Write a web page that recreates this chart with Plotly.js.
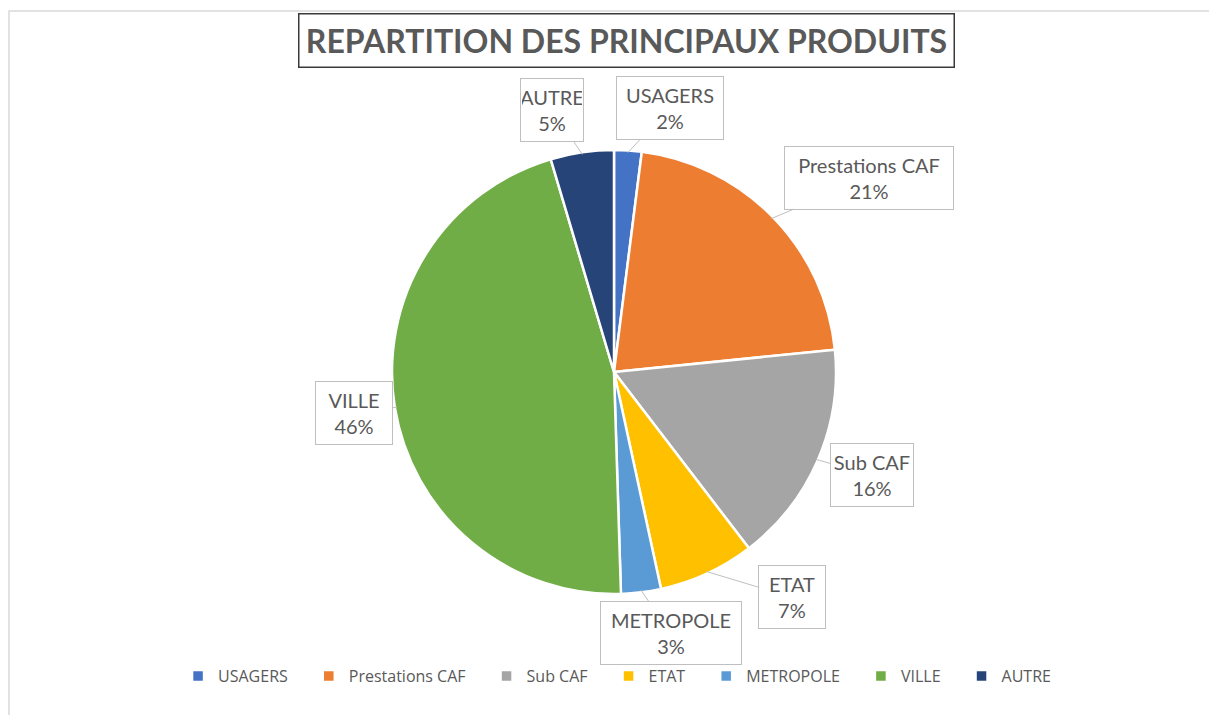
<!DOCTYPE html>
<html>
<head>
<meta charset="utf-8">
<script src="https://cdn.plot.ly/plotly-3.0.1.min.js"></script>
<style>
  body { margin: 0; background: #fff; }
  #chart { width: 1209px; height: 715px; }
</style>
</head>
<body>
<div id="chart"></div>
<script>
// Répartition des principaux produits

const categories = ['USAGERS', 'Prestations CAF', 'Sub CAF', 'ETAT', 'METROPOLE', 'VILLE', 'AUTRE'];
const shares = [2.0, 21.4, 16.2, 7.0, 2.9, 45.9, 4.6];
const colors = ['#4472C4', '#ED7D31', '#A5A5A5', '#FFC000', '#5B9BD5', '#70AD47', '#264478'];

// pixel geometry of the pie
const W = 1209, H = 715;
const cx = 614, cy = 372, R = 222;

// offsets (px) of each callout box from the slice edge, and box widths
const calloutOffset = [[42, -45], [98, -41], [56, 16], [86, 26], [30, 43], [-43, 6], [-30, -45]];
const calloutWidth = [104, 166, 80, 64, 138, 74, 60];

const total = shares.reduce((a, b) => a + b, 0);
let cum = 0;
const callouts = categories.map((name, i) => {
    const mid = (cum + shares[i] / 2) / total * 2 * Math.PI;
    cum += shares[i];
    const px = cx + 0.99 * R * Math.sin(mid);
    const py = cy - 0.99 * R * Math.cos(mid);
    return {
        x: px / W, y: 1 - py / H, xref: 'paper', yref: 'paper',
        text: name + '<br>' + Math.round(shares[i] / total * 100) + '%',
        showarrow: true, arrowhead: 0, arrowwidth: 1, arrowcolor: '#bfbfbf',
        ax: calloutOffset[i][0], ay: calloutOffset[i][1],
        width: calloutWidth[i], height: 60,
        bgcolor: '#ffffff', bordercolor: '#bfbfbf', borderwidth: 1, borderpad: 1,
        font: {family: 'Lato, sans-serif', size: 20, color: '#595959'}
    };
});

// a little extra room after each legend entry
const legendLabels = categories.map(c => c + '\u2003');

const data = [{
    type: 'pie',
    labels: legendLabels,
    values: shares,
    sort: false,
    direction: 'clockwise',
    rotation: 0,
    textinfo: 'none',
    hoverinfo: 'label+percent',
    marker: {colors: colors, line: {color: '#ffffff', width: 2.5}},
    domain: {x: [(cx - R) / W, (cx + R) / W], y: [1 - (cy + R) / H, 1 - (cy - R) / H]}
}];

const layout = {
    width: W,
    height: H,
    margin: {l: 0, r: 0, t: 0, b: 0},
    paper_bgcolor: '#ffffff',
    showlegend: true,
    legend: {
        orientation: 'h',
        x: 0.517, xanchor: 'center',
        y: 1 - 676 / H, yanchor: 'middle',
        font: {family: '"Open Sans", sans-serif', size: 16, color: '#595959'},
        itemclick: false
    },
    shapes: [{
        type: 'rect', xref: 'paper', yref: 'paper',
        x0: 9 / W, x1: 1.02, y0: -0.02, y1: 1 - 11 / H,
        line: {color: '#d9d9d9', width: 1.5}
    }],
    annotations: [{
        text: '<b>REPARTITION DES PRINCIPAUX PRODUITS</b>',
        xref: 'paper', yref: 'paper', x: 626 / W, y: 1 - 41 / H,
        xanchor: 'center', yanchor: 'middle',
        showarrow: false, width: 652, height: 50,
        bgcolor: '#ffffff', bordercolor: '#3a3a3a', borderwidth: 1.5, borderpad: 1,
        font: {family: 'Lato, sans-serif', size: 32, color: '#595959'}
    }].concat(callouts)
};

Plotly.newPlot('chart', data, layout, {displayModeBar: false, staticPlot: true});
</script>
</body>
</html>
